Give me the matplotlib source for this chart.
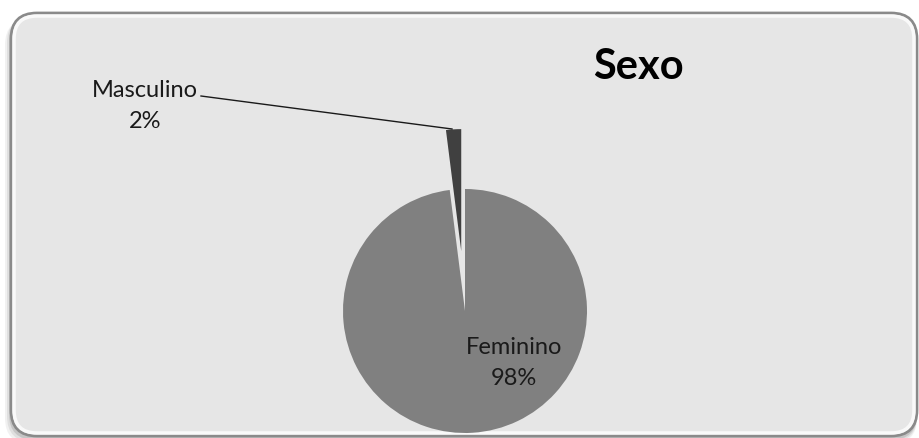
import matplotlib.pyplot as plt
from matplotlib.patches import FancyBboxPatch

categories = ['Feminino', 'Masculino']
values = [98, 2]
colors = ['#808080', '#404040']
title = 'Sexo'

W, H = 920, 439
plt.rcParams['font.family'] = ['Lato', 'DejaVu Sans']

fig = plt.figure(figsize=(W / 100, H / 100), dpi=100)
fig.patch.set_facecolor('white')
ax = fig.add_axes([0, 0, 1, 1])

# frame with soft shadow
for off, a in [(6, 0.10), (4, 0.15), (2, 0.25)]:
	ax.add_patch(FancyBboxPatch((11 - off, 0 - off), 906 + off, 425,
		boxstyle='round,pad=0,rounding_size=26', fc='#7a7a7a', ec='none', alpha=a, zorder=0))
ax.add_patch(FancyBboxPatch((11, 2), 906, 423,
	boxstyle='round,pad=0,rounding_size=26', fc='#e6e6e6', ec='#8a8a8a', lw=2, zorder=1))
ax.add_patch(FancyBboxPatch((14, 5), 900, 417,
	boxstyle='round,pad=0,rounding_size=23', fc='none', ec='white', lw=2.5, alpha=0.8, zorder=1))

# pie (data units are pixels)
cx, cy, r = 465, 127, 122
wedges, _ = ax.pie(values, colors=colors, startangle=90, counterclock=False,
	center=(cx, cy), radius=r, explode=[0, 60], frame=True,
	wedgeprops=dict(linewidth=0))
for w in wedges:
	w.set_zorder(2)
ax.set_xlim(0, W)
ax.set_ylim(0, H)
ax.set_aspect('auto')
ax.axis('off')

total = sum(values)
labels = [f'{c}\n{v / total * 100:.0f}%' for c, v in zip(categories, values)]

ax.text(514, 76, labels[0], ha='center', va='center', fontsize=17,
	linespacing=1.6, color='#1a1a1a', zorder=3)
ax.text(145, 333, labels[1], ha='center', va='center', fontsize=17,
	linespacing=1.6, color='#1a1a1a', zorder=3)
ax.plot([201, 452], [342, 309], color='#1a1a1a', lw=1, zorder=3)

ax.text(638, 372, title, ha='center', va='center', fontsize=30,
	fontweight='bold', color='black', zorder=3)

fig.savefig('out.png', dpi=100, facecolor=fig.get_facecolor())
